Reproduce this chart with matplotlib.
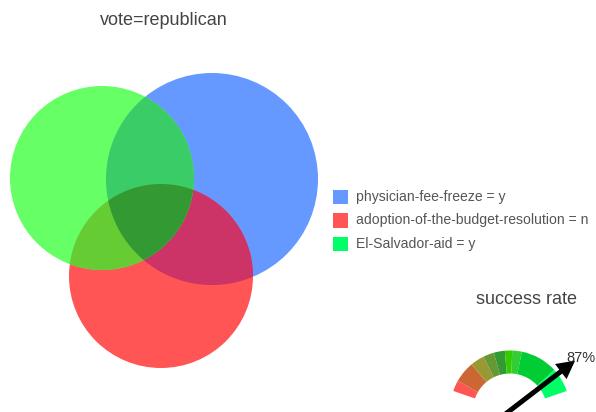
import numpy as np
import matplotlib
matplotlib.use("Agg")
import matplotlib.pyplot as plt
from matplotlib.patches import Circle, Polygon, Wedge, Rectangle

plt.rcParams['font.family'] = ['Liberation Sans', 'DejaVu Sans']

# venn sets
set_labels = ["physician-fee-freeze = y", "adoption-of-the-budget-resolution = n", "El-Salvador-aid = y"]
legend_colors = ["#6699FF", "#FF5555", "#00FF66"]
circle_colors = ["#6699FF", "#FF5555", "#66FF66"]
# overlap colours: (blue,red), (blue,green), (red,green), all three
pair_colors = {(0, 1): "#CC3366", (0, 2): "#3ACC66", (1, 2): "#66CC33"}
triple_color = "#339933"

# gauge
success_rate = 0.87
seg_bounds = [0.0, 0.075, 0.22, 0.315, 0.39, 0.465, 0.515, 0.58, 0.835, 1.0]
seg_colors = ["#FF5555", "#CC6633", "#999933", "#669933", "#339933",
              "#33CC00", "#33CC33", "#00CC33", "#00FF66"]

# layout (pixel space)
centers = [(212, 179), (161, 276), (102, 178)]
radii = [106, 92, 92]
gauge_c = (510, 410.5)
gauge_r = 60
gauge_w = 23
a_start, a_end = 161, 19

fig = plt.figure(figsize=(5.96, 4.12), dpi=100)
ax = fig.add_axes([0, 0, 1, 1])
ax.set_xlim(0, 596)
ax.set_ylim(412, 0)
ax.axis("off")


def boundary(i, n=720):
    t = np.linspace(0, 2 * np.pi, n, endpoint=False)
    cx, cy = centers[i]
    return np.column_stack([cx + radii[i] * np.cos(t), cy + radii[i] * np.sin(t)])


def inside(pts, j):
    cx, cy = centers[j]
    return np.hypot(pts[:, 0] - cx, pts[:, 1] - cy) <= radii[j] + 1e-9


def region(idx):
    pts = []
    for i in idx:
        b = boundary(i)
        m = np.ones(len(b), bool)
        for j in idx:
            if j != i:
                m &= inside(b, j)
        pts.append(b[m])
    pts = np.vstack(pts)
    c = pts.mean(axis=0)
    order = np.argsort(np.arctan2(pts[:, 1] - c[1], pts[:, 0] - c[0]))
    return pts[order]


for i in range(3):
    ax.add_patch(Circle(centers[i], radii[i], color=circle_colors[i], lw=0))
for (i, j), col in pair_colors.items():
    ax.add_patch(Polygon(region([i, j]), closed=True, color=col, lw=0))
ax.add_patch(Polygon(region([0, 1, 2]), closed=True, color=triple_color, lw=0))

ax.text(164, 20, "vote=republican", ha="center", va="center", fontsize=13, color="#444444")

# legend
for k, (lab, col) in enumerate(zip(set_labels, legend_colors)):
    y = 196.5 + 23.5 * k
    ax.add_patch(Rectangle((333, y - 7), 14.5, 14.5, color=col, lw=0))
    ax.text(356, y, lab, ha="left", va="center", fontsize=10.1, color="#555555")

# gauge
ax.text(526.5, 300, "success rate", ha="center", va="center", fontsize=13, color="#444444")
span = a_start - a_end
for k, col in enumerate(seg_colors):
    hi = a_start - span * seg_bounds[k]
    lo = a_start - span * seg_bounds[k + 1]
    ax.add_patch(Wedge(gauge_c, gauge_r, -hi, -lo, width=gauge_w, color=col, lw=0))

ang = np.deg2rad(a_start - span * success_rate)
L = 82
dx, dy = np.cos(ang), -np.sin(ang)
ax.arrow(gauge_c[0] - 10 * dx, gauge_c[1] - 10 * dy, (L + 10) * dx, (L + 10) * dy,
         width=5, head_width=19, head_length=18, length_includes_head=True,
         color="black", lw=0)
ax.text(gauge_c[0] + L * dx + 6, gauge_c[1] + L * dy - 3, "87%", ha="center", va="center",
        fontsize=10.5, color="#333333")

fig.savefig("out.png", dpi=100)
